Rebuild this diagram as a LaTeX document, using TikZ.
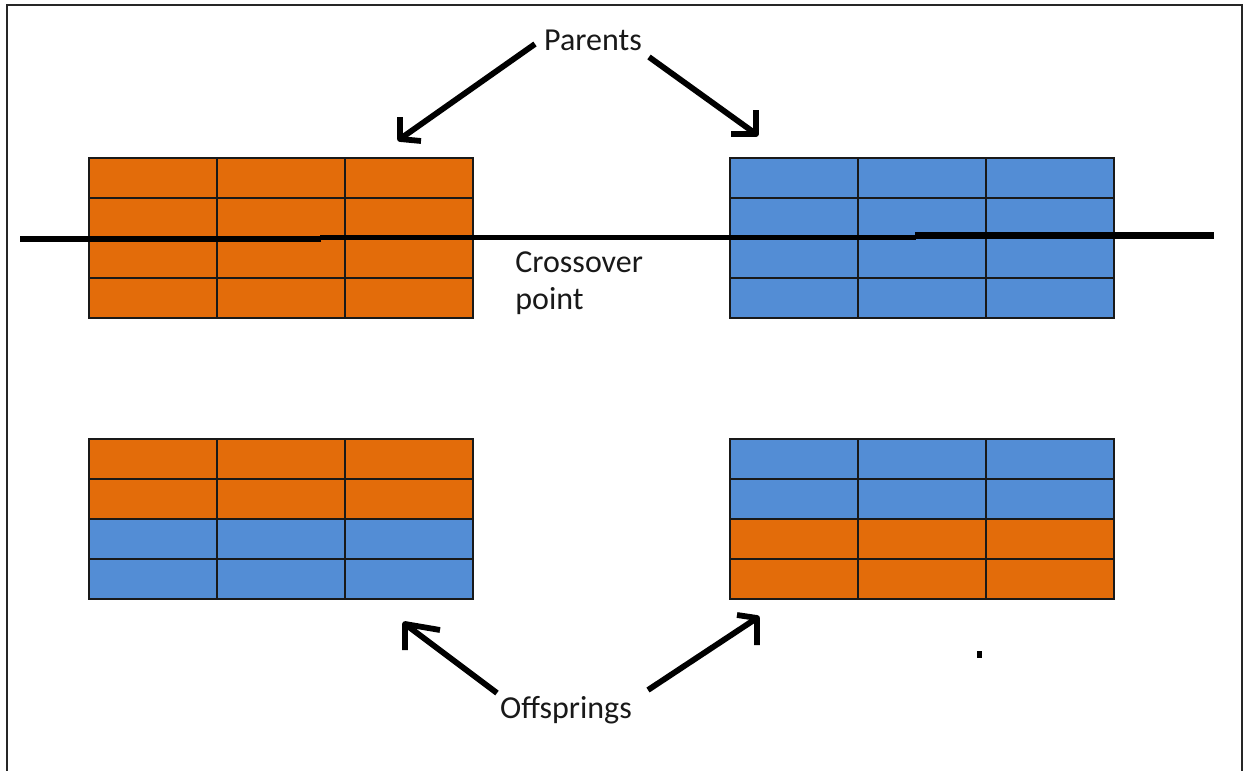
\documentclass[tikz,border=0pt]{standalone}
\usepackage{fontspec}
\setmainfont{Carlito}
\definecolor{gorange}{HTML}{E36C0A}
\definecolor{gblue}{HTML}{538DD5}
\tikzset{
  cell/.style={draw=black!90, line width=0.9pt},
  hand/.style={draw=black, line width=2.9pt, line join=round},
  cut/.style={draw=black, line width=2.8pt},
  lbl/.style={inner sep=0pt, font=\fontsize{16}{19}\selectfont, text=black!90},
}
% grid: #1 x-left, #2 y-top, #3..#6 row colours
\newcommand{\chromgrid}[6]{%
  \foreach \r/\c in {0/#3,1/#4,2/#5,3/#6}{%
    \foreach \k in {0,1,2}{%
      \path[cell, fill=\c] ({#1+\k*128},{#2+\r*40}) rectangle ++(128,40);
    }%
  }%
}
\begin{document}
\begin{tikzpicture}[x=0.5pt,y=-0.5pt]
\useasboundingbox (0,0) rectangle (1244,771);
% frame
\draw[line width=1pt, black!85] (7,771) -- (7,5) -- (1242,5) -- (1242,771);
% chromosome grids
\chromgrid{89}{158}{gorange}{gorange}{gorange}{gorange}
\chromgrid{730}{158}{gblue}{gblue}{gblue}{gblue}
\chromgrid{89}{439}{gorange}{gorange}{gblue}{gblue}
\chromgrid{730}{439}{gblue}{gblue}{gorange}{gorange}
% crossover line
\coordinate (c0) at (20,239);
\coordinate (c1) at (321,239);
\coordinate (c2) at (320,237.5);
\coordinate (c3) at (916,237.5);
\coordinate (c4) at (915,235.5);
\coordinate (c5) at (1214,235.5);
\draw[cut] (c0) -- (c1);
\draw[cut] (c2) -- (c3);
\draw[cut, line width=3.1pt] (c4) -- (c5);
% labels
\node[lbl, anchor=base] (parents) at (593,50) {Parents};
\node[lbl, anchor=base west] (crossA) at (515,272) {Crossover};
\node[lbl, anchor=base west] (crossB) at (515,309) {point};
\node[lbl, anchor=base] (offspr) at (566,718) {Offsprings};
% arrow end points
\coordinate (pLs) at (535,44);
\coordinate (pLt) at (400,139);
\coordinate (pRs) at (649,57);
\coordinate (pRt) at (756,134);
\coordinate (oLs) at (497,693);
\coordinate (oLt) at (405,624);
\coordinate (oRs) at (648,690);
\coordinate (oRt) at (757,618);
% parents arrows
\draw[hand] (pLs) -- (pLt);
\draw[hand] (400,117) -- (pLt) -- (421,141);
\draw[hand] (pRs) -- (pRt);
\draw[hand] (756,110) -- (pRt) -- (731,134);
% offspring arrows
\draw[hand] (oLs) -- (oLt);
\draw[hand] (405,650) -- (oLt) -- (440,630);
\draw[hand] (oRs) -- (oRt);
\draw[hand] (737,615) -- (oRt) -- (757,645);
% stray dot
\fill[black] (976.5,651) rectangle (981.5,658);
\end{tikzpicture}
\end{document}
